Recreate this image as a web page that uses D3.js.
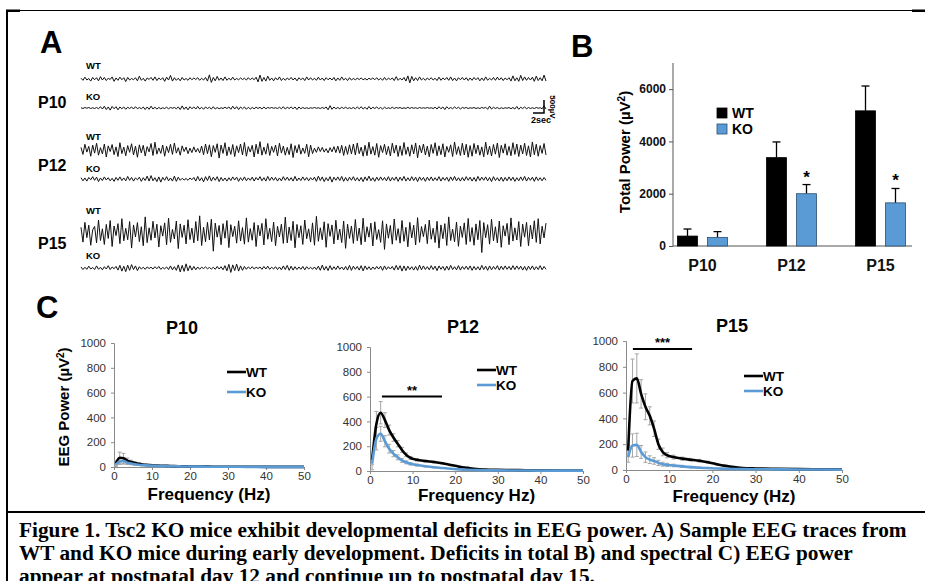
<!DOCTYPE html>
<html>
<head>
<meta charset="utf-8">
<script src="https://cdnjs.cloudflare.com/ajax/libs/d3/7.8.5/d3.min.js"></script>
<style>
  body { margin: 0; background: #fff; }
  svg { display: block; }
  text { font-family: "Liberation Sans", Arial, sans-serif; }
  text.caption { font-family: "Liberation Serif", "Times New Roman", serif; }
</style>
</head>
<body>
<svg id="fig" width="925" height="581"></svg>
<script>
// ---- data ----
const ages = ['P10', 'P12', 'P15'];

// B) total power (µV²)
const totalWT = [380, 3380, 5170];
const totalWTErr = [270, 600, 950];
const totalKO = [330, 2000, 1650];
const totalKOErr = [220, 350, 550];
const totalSig = ['', '*', '*'];
const powerTicks = [0, 2000, 4000, 6000];

// C) spectral power (µV²) by frequency (Hz)
const freqs = [0.5, 1.5, 2.5, 3.5, 4.5, 5.5, 6.5, 7.5, 8.5, 9.5, 11, 13, 15, 17, 19, 21, 23, 25, 27, 30, 35, 40, 45, 50];
const p10WT = [30, 75, 70, 52, 40, 32, 25, 20, 17, 15, 12, 10, 8, 6, 5, 4, 3, 3, 2, 2, 2, 1, 1, 1];
const p10WTErr = [20, 45, 40, 20, 15, 10, 8, 6, 5, 4, 3, 3, 2, 2, 2, 1, 1, 1, 1, 1, 1, 1, 1, 1];
const p10KO = [20, 45, 48, 35, 28, 22, 18, 15, 13, 11, 9, 7, 6, 5, 4, 3, 3, 2, 2, 2, 1, 1, 1, 1];
const p10KOErr = [15, 25, 25, 15, 10, 8, 6, 5, 4, 3, 3, 2, 2, 2, 1, 1, 1, 1, 1, 1, 1, 1, 1, 1];
const p12WT = [90, 380, 470, 410, 330, 270, 220, 170, 130, 105, 90, 80, 72, 62, 48, 35, 25, 16, 12, 9, 7, 5, 4, 4];
const p12WTErr = [40, 100, 90, 60, 40, 30, 25, 20, 15, 12, 10, 8, 7, 6, 5, 4, 3, 2, 2, 2, 1, 1, 1, 1];
const p12KO = [60, 260, 300, 240, 180, 140, 110, 85, 70, 58, 48, 38, 30, 24, 18, 13, 10, 8, 6, 5, 4, 3, 3, 3];
const p12KOErr = [50, 90, 60, 45, 35, 25, 20, 15, 12, 10, 8, 6, 5, 4, 3, 3, 2, 2, 1, 1, 1, 1, 1, 1];
const p15WT = [150, 690, 710, 590, 490, 420, 320, 200, 140, 115, 100, 88, 80, 72, 60, 45, 32, 22, 16, 12, 9, 7, 6, 5];
const p15WTErr = [40, 170, 190, 110, 100, 70, 60, 40, 30, 20, 15, 12, 10, 10, 8, 6, 5, 4, 3, 3, 2, 2, 2, 2];
const p15KO = [100, 190, 195, 140, 100, 80, 70, 55, 45, 40, 35, 28, 22, 18, 15, 12, 10, 8, 7, 6, 5, 4, 4, 3];
const p15KOErr = [40, 90, 90, 50, 40, 30, 25, 20, 15, 12, 10, 8, 6, 5, 4, 3, 3, 2, 2, 2, 1, 1, 1, 1];
const freqTicks = [0, 10, 20, 30, 40, 50];
const eegTicks = [0, 200, 400, 600, 800, 1000];
const freqTitles = ['Frequency (Hz)', 'Frequency Hz)', 'Frequency (Hz)'];
const sigBands = [null, [2.8, 16.9, 600, '**'], [1.6, 15.3, 938, '***']];

// A) sample EEG traces, units of 10 µV
const traceP10WT = [3,-5,7,-4,2,-8,6,-3,5,-7,9,-4,6,-6,3,-2,8,-9,4,-5,
  7,-3,5,-10,6,-4,2,-3,5,-7,11,-5,3,-8,4,-2,6,-5,8,-6,
  4,-3,5,-9,7,-4,14,-8,5,-5,3,-7,6,-4,2,-5,5,-3,4,-2,
  5,-5,3,-4,6,-8,16,-13,6,-7,10,-5,4,-6,8,-5,3,-4,7,-4,
  2,-3,4,-2,3,-4,5,-3,4,-3,7,-11,15,-9,6,-8,11,-5,4,-7,
  5,-4,8,-6,3,-5,4,-3,6,-4,4,-7,5,-3,4,-6,8,-4,5,-4,
  3,-5,7,-4,4,-6,5,-3,4,-4,6,-7,4,-5,8,-4,3,-6,5,-4,
  2,-3,3,-2,4,-3,2,-4,3,-2,4,-3,5,-4,3,-5,6,-4,3,-2,
  4,-6,9,-5,3,-4,6,-8,12,-15,10,-7,5,-6,8,-4,3,-5,4,-3,
  5,-4,3,-6,7,-5,4,-3,6,-5,8,-6,4,-7,5,-3,6,-4,5,-6,
  4,-5,6,-3,5,-7,4,-6,8,-5,3,-4,6,-5,7,-4,5,-6,4,-3,
  5,-8,12,-7,5,-9,14,-6,8,-5,6,-4,7,-9,11,-6,5,-7,15,-8];
const traceP10KO = [1,-2,2,-1,2,-2,1,-2,2,-3,5,-4,7,-6,4,-8,6,-3,5,-7,
  4,-3,4,-5,3,-2,4,-4,5,-3,2,-3,4,-6,4,-5,7,-4,3,-4,
  2,-3,1,-2,3,-3,2,-1,2,-3,4,-6,8,-5,4,-7,5,-3,4,-4,
  6,-4,3,-5,4,-2,3,-4,5,-4,2,-3,1,-2,3,-2,4,-5,7,-4,
  5,-6,4,-3,4,-5,3,-4,2,-3,3,-2,3,-4,4,-3,2,-1,2,-1,
  1,-2,3,-3,5,-4,3,-2,4,-3,4,-6,4,-3,2,-2,1,-2,1,-1,
  2,-1,1,-2,2,-2,4,-7,9,-5,4,-3,2,-3,3,-2,3,-2,1,-2,
  2,-3,4,-3,5,-4,3,-5,6,-4,3,-2,4,-3,2,-4,3,-2,1,-2,
  3,-2,2,-1,2,-2,1,-2,3,-2,2,-1,1,-2,2,-1,1,-1,2,-1,
  1,-2,3,-4,5,-3,4,-6,5,-3,2,-3,4,-2,3,-4,2,-1,2,-2,
  1,-1,2,-2,1,-2,2,-1,3,-5,7,-4,3,-2,2,-3,1,-2,1,-1,
  2,-3,2,-4,6,-5,3,-2,4,-3,2,-2,1,-2,2,-1,1,-3,8,-4];
const traceP12WT = [10,-17,22,-8,14,-24,19,-12,26,-20,9,-15,23,-27,16,-6,21,-18,12,-25,
  28,-14,11,-22,17,-9,24,-19,15,-28,20,-11,18,-23,13,-7,25,-21,30,-16,
  8,-13,19,-24,14,-10,22,-17,27,-12,9,-20,16,-6,11,-14,7,-10,12,-8,
  6,-11,15,-18,23,-14,20,-26,17,-9,24,-31,19,-13,28,-22,12,-17,21,-25,
  16,-10,23,-19,29,-24,13,-8,18,-27,22,-15,32,-20,11,-16,25,-21,14,-9,
  19,-23,26,-12,15,-20,10,-18,24,-29,17,-11,21,-16,8,-13,22,-26,19,-14,
  7,-9,12,-6,10,-8,5,-11,9,-7,13,-10,15,-12,18,-21,14,-17,20,-15,
  23,-19,27,-14,11,-24,18,-22,30,-16,13,-20,25,-28,17,-10,22,-18,14,-23,
  26,-12,19,-25,16,-21,29,-17,12,-24,20,-15,27,-30,18,-11,23,-19,15,-26,
  21,-13,28,-22,16,-18,24,-27,14,-9,20,-25,31,-17,13,-21,26,-19,22,-28,
  17,-24,25,-14,19,-20,12,-26,30,-18,15,-23,21,-16,27,-29,18,-12,24,-20,
  14,-22,28,-17,23,-25,19,-15,26,-21,16,-27,31,-18,22,-24,17,-13,25,-19];
const traceP12KO = [5,-7,4,-8,6,-3,9,-5,7,-10,4,-6,8,-4,5,-7,3,-9,6,-5,
  8,-6,4,-7,10,-5,6,-8,4,-3,7,-9,5,-6,11,-8,13,-7,5,-10,
  8,-12,6,-5,9,-7,4,-8,11,-9,7,-5,3,-4,2,-5,4,-3,6,-8,
  10,-7,5,-11,9,-6,12,-8,7,-5,9,-10,6,-7,4,-8,5,-6,8,-4,
  7,-9,5,-6,8,-7,4,-5,7,-8,6,-4,9,-7,5,-8,10,-6,7,-5,
  6,-8,4,-7,9,-5,7,-6,5,-8,10,-7,4,-6,8,-5,6,-7,5,-4,
  7,-9,11,-6,8,-10,5,-7,9,-12,7,-5,8,-6,10,-9,6,-8,7,-5,
  9,-7,5,-8,6,-10,8,-6,11,-7,5,-9,7,-6,8,-5,6,-7,9,-8,
  6,-5,8,-9,7,-6,10,-8,5,-7,9,-6,7,-10,8,-5,6,-9,7,-6,
  8,-7,5,-6,9,-8,6,-5,7,-9,8,-6,10,-7,5,-8,6,-7,9,-5,
  7,-8,6,-9,10,-6,7,-5,8,-7,6,-10,9,-6,5,-8,7,-9,6,-7,
  8,-6,7,-9,5,-7,8,-6,10,-8,6,-5,7,-9,8,-6,5,-7,6,-5];
const traceP15WT = [22,-35,41,-18,30,-47,12,25,-38,50,-29,16,-44,33,-21,48,-52,27,-10,36,
  -41,55,-30,18,-26,44,-58,31,-15,40,-33,24,-49,62,-37,20,-28,45,-19,34,
  -54,28,-12,39,-45,57,-36,14,-23,46,-60,35,-17,30,-42,51,-25,19,-38,44,
  -30,66,-48,22,-34,41,-27,53,-70,38,-16,29,-45,36,-20,48,-56,32,-14,26,
  -39,47,-31,21,-43,58,-35,17,-28,40,-52,30,-11,37,-46,55,-24,18,-33,42,
  -49,26,-15,34,-40,61,-38,23,-29,45,-57,33,-18,28,-44,50,-22,16,-35,39,
  -47,64,-32,20,-26,43,-55,36,-13,31,-42,49,-27,15,-37,46,-59,34,-21,27,
  -40,52,-30,19,-45,57,-34,24,-16,38,-50,43,-25,13,-36,47,-63,35,-20,29,
  -43,54,-28,17,-39,48,-32,22,-53,41,-19,30,-46,59,-36,25,-14,33,-41,50,
  -24,18,-37,45,-58,31,-22,36,-48,62,-29,15,-34,42,-51,27,-17,39,-44,56,
  -33,21,-47,35,-26,48,-75,40,-18,32,-43,53,-30,24,-38,46,-55,28,-12,37,
  -45,58,-31,20,-27,44,-52,34,-16,41,-49,30,-23,47,-36,55,-42,26,-19,38];
const traceP15KO = [4,-6,3,-5,7,-4,2,-6,8,-5,3,-7,5,-4,9,-6,4,-3,6,-8,
  10,-12,7,-14,11,-9,13,-6,8,-10,5,-4,3,-5,4,-2,3,-4,5,-3,
  6,-5,2,-3,4,-6,8,-7,5,-9,12,-15,10,-13,16,-11,9,-8,6,-7,
  4,-5,3,-2,4,-3,2,-4,3,-5,6,-4,5,-7,9,-11,14,-17,12,-10,
  15,-12,8,-9,6,-5,4,-3,5,-4,3,-2,4,-5,6,-4,7,-5,3,-4,
  5,-6,4,-7,8,-6,10,-9,7,-8,5,-6,4,-5,6,-7,5,-4,3,-5,
  4,-6,7,-9,11,-8,6,-10,9,-7,5,-6,8,-5,4,-7,6,-8,10,-9,
  7,-5,6,-8,9,-11,8,-6,5,-7,4,-5,6,-4,7,-9,8,-6,5,-4,
  6,-8,10,-7,9,-12,8,-10,7,-6,5,-8,6,-9,11,-7,8,-6,5,-7,
  9,-6,7,-10,8,-5,6,-9,7,-8,10,-6,5,-7,9,-8,6,-5,7,-6,
  8,-9,6,-7,5,-8,10,-6,7,-9,8,-7,6,-5,9,-8,7,-6,8,-5,
  6,-7,9,-6,8,-5,7,-8,6,-9,7,-6,8,-7,5,-6,9,-7,6,-5];

const captionLines = [
  'Figure 1. Tsc2 KO mice exhibit developmental deficits in EEG power. A) Sample EEG traces from',
  'WT and KO mice during early development. Deficits in total B) and spectral C) EEG power',
  'appear at postnatal day 12 and continue up to postnatal day 15.'
];

const blue = '#5b9bd5';
const svg = d3.select('#fig');

// ---- frame ----
svg.append('line').attr('x1', 6).attr('x2', 925).attr('y1', 10.5).attr('y2', 10.5).attr('stroke', '#000').attr('stroke-width', 1.2);
svg.append('rect').attr('x', 6).attr('y', 9.5).attr('width', 14).attr('height', 2.5).attr('fill', '#000');
svg.append('rect').attr('x', 912).attr('y', 9.5).attr('width', 13).attr('height', 2.5).attr('fill', '#000');
svg.append('line').attr('x1', 7).attr('x2', 7).attr('y1', 10).attr('y2', 581).attr('stroke', '#000').attr('stroke-width', 2);
svg.append('line').attr('x1', 6).attr('x2', 925).attr('y1', 512).attr('y2', 512).attr('stroke', '#000').attr('stroke-width', 2);

const panelLetter = (t, x, y) => svg.append('text').attr('x', x).attr('y', y)
  .attr('font-size', 31).attr('font-weight', 'bold').text(t);
panelLetter('A', 40, 53);
panelLetter('B', 571, 57);
panelLetter('C', 36, 318);

// ---- A: traces ----
const traces = [
  { age: 'P10', wt: traceP10WT, ko: traceP10KO, wtY: 79, koY: 108, wtLab: 66, koLab: 97, ageY: 102 },
  { age: 'P12', wt: traceP12WT, ko: traceP12KO, wtY: 150, koY: 179, wtLab: 137, koLab: 169, ageY: 165 },
  { age: 'P15', wt: traceP15WT, ko: traceP15KO, wtY: 233, koY: 268, wtLab: 211, koLab: 256, ageY: 243 }
];
const uvScale = d3.scaleLinear().domain([0, 50]).range([0, -13]); // 500 µV = 13 px

traces.forEach(t => {
  svg.append('text').attr('x', 38).attr('y', t.ageY).attr('dy', '0.35em')
    .attr('font-size', 16).attr('font-weight', 'bold').text(t.age);
  [[t.wt, t.wtY, t.wtLab, 'WT'], [t.ko, t.koY, t.koLab, 'KO']].forEach(([vals, y0, ly, lab]) => {
    svg.append('text').attr('x', 86).attr('y', ly).attr('dy', '0.35em')
      .attr('font-size', 9.5).attr('font-weight', 'bold').text(lab);
    const xs = d3.scaleLinear().domain([0, vals.length - 1]).range([81, 546]);
    const line = d3.line().x((d, i) => xs(i)).y(d => y0 + uvScale(d));
    svg.append('path').datum(vals).attr('d', line)
      .attr('fill', 'none').attr('stroke', '#111').attr('stroke-width', 1);
  });
});
// scale bar
svg.append('path').attr('d', 'M533,113H544V100').attr('fill', 'none').attr('stroke', '#000').attr('stroke-width', 1.5);
svg.append('text').attr('x', 541).attr('y', 123).attr('text-anchor', 'middle')
  .attr('font-size', 9).attr('font-weight', 'bold').text('2sec');
svg.append('text').attr('transform', 'translate(550,107) rotate(90)').attr('text-anchor', 'middle')
  .attr('font-size', 8).attr('font-weight', 'bold').text('500µV');

// ---- B: total power bars ----
const bx = d3.scaleBand().domain(ages).range([658, 925]);
const by = d3.scaleLinear().domain([0, 7000]).range([246, 63]);
const gB = svg.append('g');
gB.append('line').attr('x1', 673).attr('x2', 673).attr('y1', 63).attr('y2', 246).attr('stroke', '#555');
gB.append('line').attr('x1', 673).attr('x2', 912).attr('y1', 246).attr('y2', 246).attr('stroke', '#555');
gB.append('g').attr('transform', 'translate(673,0)')
  .call(d3.axisLeft(by).tickValues(powerTicks).tickSize(4).tickFormat(d3.format('d')))
  .call(g => g.select('.domain').remove())
  .call(g => g.selectAll('line').attr('stroke', '#555'))
  .call(g => g.selectAll('text').attr('font-size', 12).attr('font-weight', 'bold').attr('fill', '#111'));
gB.append('g').attr('transform', 'translate(0,246)')
  .call(d3.axisBottom(bx).tickSize(0).tickPadding(14))
  .call(g => g.select('.domain').remove())
  .call(g => g.selectAll('text').attr('font-size', 16).attr('font-weight', 'bold').attr('fill', '#111'));

const barW = 20;
const groups = [
  { vals: totalWT, errs: totalWTErr, off: -15, fill: '#000', stroke: '#000' },
  { vals: totalKO, errs: totalKOErr, off: 15, fill: blue, stroke: '#2a4f72' }
];
groups.forEach(g => {
  ages.forEach((a, i) => {
    const cx = bx(a) + bx.bandwidth() / 2 + g.off;
    const top = by(g.vals[i] + g.errs[i]);
    gB.append('line').attr('x1', cx).attr('x2', cx).attr('y1', by(g.vals[i])).attr('y2', top)
      .attr('stroke', '#000').attr('stroke-width', 1.3);
    gB.append('line').attr('x1', cx - 4).attr('x2', cx + 4).attr('y1', top).attr('y2', top)
      .attr('stroke', '#000').attr('stroke-width', 1.3);
    gB.append('rect').attr('x', cx - barW / 2).attr('y', by(g.vals[i]))
      .attr('width', barW).attr('height', by(0) - by(g.vals[i]))
      .attr('fill', g.fill).attr('stroke', g.stroke).attr('stroke-width', 0.8);
  });
});
ages.forEach((a, i) => {
  if (!totalSig[i]) return;
  const cx = bx(a) + bx.bandwidth() / 2 + 15;
  gB.append('text').attr('x', cx).attr('y', by(totalKO[i] + totalKOErr[i]) - 2)
    .attr('text-anchor', 'middle').attr('font-size', 17).attr('font-weight', 'bold').text(totalSig[i]);
});
// legend
[['WT', '#000', '#000', 113], ['KO', blue, '#2a4f72', 129]].forEach(([lab, f, s, y]) => {
  gB.append('rect').attr('x', 717).attr('y', y - 5).attr('width', 10).attr('height', 10)
    .attr('fill', f).attr('stroke', s).attr('stroke-width', 0.8);
  gB.append('text').attr('x', 732).attr('y', y).attr('dy', '0.35em')
    .attr('font-size', 14).attr('font-weight', 'bold').text(lab);
});
gB.append('text').attr('transform', 'translate(630,152) rotate(-90)').attr('text-anchor', 'middle')
  .attr('font-size', 15).attr('font-weight', 'bold')
  .html('Total Power (µV<tspan dy="-5" font-size="10">2</tspan><tspan dy="5">)</tspan>');

// ---- C: spectral power ----
const spectra = [
  { wt: p10WT, wtErr: p10WTErr, ko: p10KO, koErr: p10KOErr },
  { wt: p12WT, wtErr: p12WTErr, ko: p12KO, koErr: p12KOErr },
  { wt: p15WT, wtErr: p15WTErr, ko: p15KO, koErr: p15KOErr }
];
const cLayout = [
  { x0: 114, x1: 304, y0: 467, y1: 343, titleX: 182, titleY: 328, legX: 227, legY: [372, 392], labY: 500 },
  { x0: 370, x1: 583, y0: 471, y1: 347, titleX: 463, titleY: 327, legX: 477, legY: [370, 385], labY: 501 },
  { x0: 626, x1: 842, y0: 470, y1: 341, titleX: 732, titleY: 326, legX: 744, legY: [376, 391], labY: 502 }
];

spectra.forEach((s, k) => {
  const L = cLayout[k];
  const x = d3.scaleLinear().domain([0, 50]).range([L.x0, L.x1]);
  const y = d3.scaleLinear().domain([0, 1000]).range([L.y0, L.y1]);
  const g = svg.append('g');

  g.append('g').attr('transform', `translate(${L.x0},0)`)
    .call(d3.axisLeft(y).tickValues(eegTicks).tickSize(3).tickPadding(5).tickFormat(d3.format('d')))
    .call(a => a.selectAll('path,line').attr('stroke', '#8a8a8a'))
    .call(a => a.selectAll('text').attr('font-size', 11.5).attr('fill', '#333'));
  g.append('g').attr('transform', `translate(0,${L.y0})`)
    .call(d3.axisBottom(x).tickValues(freqTicks).tickSize(3).tickPadding(2))
    .call(a => a.selectAll('path,line').attr('stroke', '#8a8a8a'))
    .call(a => a.selectAll('text').attr('font-size', 11.5).attr('fill', '#333'));

  // error bars
  [[s.wt, s.wtErr], [s.ko, s.koErr]].forEach(([v, e]) => {
    freqs.forEach((f, i) => {
      if (e[i] < 4) return;
      const xx = x(f);
      const hi = y(v[i] + e[i]), lo = y(Math.max(0, v[i] - e[i]));
      g.append('path')
        .attr('d', `M${xx - 2},${hi}H${xx + 2}M${xx},${hi}V${lo}M${xx - 2},${lo}H${xx + 2}`)
        .attr('fill', 'none').attr('stroke', '#a6a6a6').attr('stroke-width', 1);
    });
  });
  const line = d3.line().x((d, i) => x(freqs[i])).y(d => y(d)).curve(d3.curveMonotoneX);
  g.append('path').datum(s.wt).attr('d', line).attr('fill', 'none').attr('stroke', '#000').attr('stroke-width', 2.6);
  g.append('path').datum(s.ko).attr('d', line).attr('fill', 'none').attr('stroke', blue).attr('stroke-width', 2.6);

  // title
  g.append('text').attr('x', L.titleX).attr('y', L.titleY).attr('dy', '0.35em').attr('text-anchor', 'middle')
    .attr('font-size', 18).attr('font-weight', 'bold').text(ages[k]);
  // legend
  [['WT', '#000'], ['KO', blue]].forEach(([lab, c], j) => {
    g.append('line').attr('x1', L.legX).attr('x2', L.legX + 19).attr('y1', L.legY[j]).attr('y2', L.legY[j])
      .attr('stroke', c).attr('stroke-width', 2.6);
    g.append('text').attr('x', L.legX + 19).attr('y', L.legY[j]).attr('dy', '0.35em')
      .attr('font-size', 13.5).attr('font-weight', 'bold').text(lab);
  });
  // x label
  g.append('text').attr('x', (L.x0 + L.x1) / 2).attr('y', L.labY).attr('text-anchor', 'middle')
    .attr('font-size', 17).attr('font-weight', 'bold').text(freqTitles[k]);
  // significance band
  const sb = sigBands[k];
  if (sb) {
    g.append('line').attr('x1', x(sb[0])).attr('x2', x(sb[1])).attr('y1', y(sb[2])).attr('y2', y(sb[2]))
      .attr('stroke', '#000').attr('stroke-width', 2);
    g.append('text').attr('x', x((sb[0] + sb[1]) / 2)).attr('y', y(sb[2]) - 2).attr('text-anchor', 'middle')
      .attr('font-size', 13).attr('font-weight', 'bold').text(sb[3]);
  }
});
svg.append('text').attr('transform', 'translate(69,407) rotate(-90)').attr('text-anchor', 'middle')
  .attr('font-size', 15).attr('font-weight', 'bold')
  .html('EEG Power (µV<tspan dy="-5" font-size="10">2</tspan><tspan dy="5">)</tspan>');

// ---- caption ----
svg.append('g').selectAll('text').data(captionLines).join('text')
  .attr('class', 'caption')
  .attr('x', 19).attr('y', (d, i) => 537 + i * 22.8)
  .attr('font-size', 21.3).attr('font-weight', 'bold').text(d => d);
</script>
</body>
</html>
